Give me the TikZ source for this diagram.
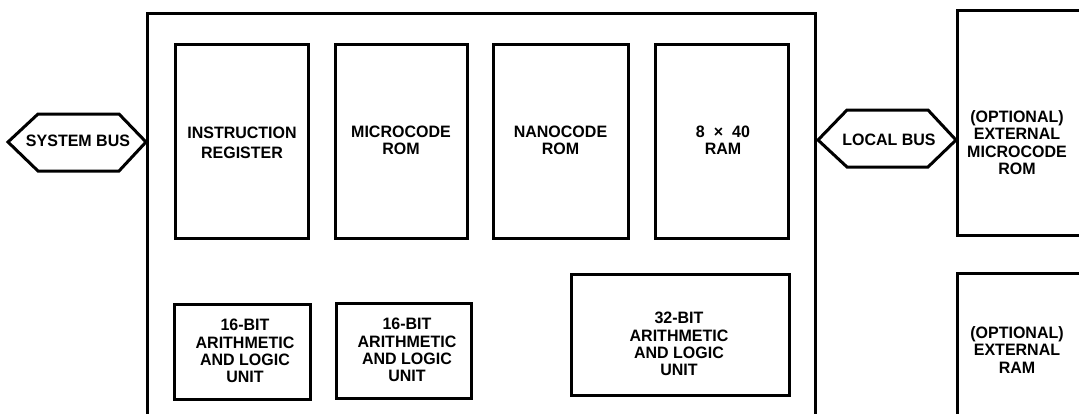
\documentclass[tikz,border=0pt]{standalone}
\usepackage{fontspec}
\setmainfont{Liberation Sans}[FakeStretch=0.97]
\begin{document}
\begin{tikzpicture}[x=1pt,y=-1pt,
  blk/.style={draw,line width=3pt},
  frame/.style={line width=3pt,line join=miter},
  lbl/.style={font=\fontsize{16.5}{17.2}\selectfont\bfseries,align=center,inner sep=0pt},
  lblwide/.style={font=\fontsize{16.5}{20.5}\selectfont\bfseries,align=center,inner sep=0pt}]
\useasboundingbox (0,0) rectangle (1079,413);
\begin{scope}
\clip (0,0) rectangle (1079,413);
% main chip outline (open at bottom)
\draw[frame] (147,420) -- (147,13) -- (815,13) -- (815,420);
% external ROM / RAM
\draw[frame] (1090,10) -- (957,10) -- (957,235) -- (1090,235);
\draw[frame] (1090,273) -- (957,273) -- (957,420);
% boxes
\draw[blk] (175,44) rectangle (308,238);
\draw[blk] (335,44) rectangle (467,238);
\draw[blk] (493,44) rectangle (628,238);
\draw[blk] (655,44) rectangle (788,238);
\draw[blk] (174,304) rectangle (310,399);
\draw[blk] (336,303) rectangle (471,398);
\draw[blk] (571,274) rectangle (789,395);
% buses
\draw[frame] (8,142) -- (38,114) -- (119,114) -- (146,142) -- (119,171) -- (38,171) -- cycle;
\draw[frame] (818,140) -- (847,110) -- (928,110) -- (956,140) -- (928,167) -- (847,167) -- cycle;
\end{scope}
% labels
\node[lbl] (sysbus) at (78,141) {SYSTEM BUS};
\node[lbl] (locbus) at (889,140) {LOCAL BUS};
\node[lblwide] (ir) at (242,143) {INSTRUCTION\\REGISTER};
\node[lbl] (mrom) at (401,140) {MICROCODE\\ROM};
\node[lbl] (nrom) at (560.5,140) {NANOCODE\\ROM};
\node[lbl] (ram) at (723,140) {8\hspace{9pt}×\hspace{9pt}40\\RAM};
\node[lbl] (alua) at (245,351) {16-BIT\\ARITHMETIC\\AND LOGIC\\UNIT};
\node[lbl] (alub) at (407,350) {16-BIT\\ARITHMETIC\\AND LOGIC\\UNIT};
\node[lbl] (aluc) at (679,344) {32-BIT\\ARITHMETIC\\AND LOGIC\\UNIT};
\node[lbl] (extrom) at (1017,142.5) {(OPTIONAL)\\EXTERNAL\\MICROCODE\\ROM};
\node[lbl] (extram) at (1017,350) {(OPTIONAL)\\EXTERNAL\\RAM};
\end{tikzpicture}
\end{document}
